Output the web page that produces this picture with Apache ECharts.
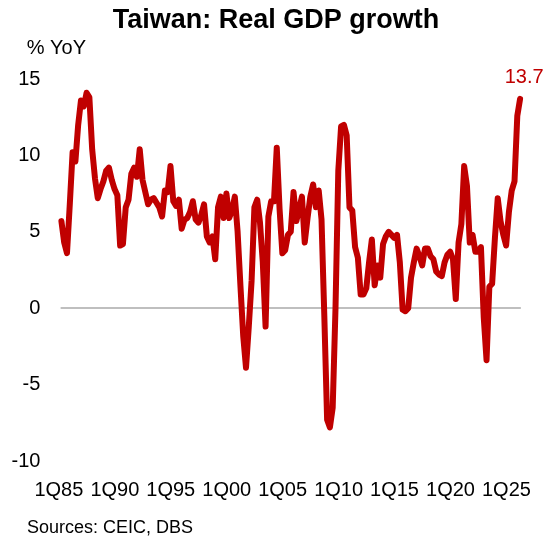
<!DOCTYPE html>
<html>
<head>
<meta charset="utf-8">
<script src="https://cdn.jsdelivr.net/npm/echarts@6/dist/echarts.min.js"></script>
<style>
  html, body { margin: 0; padding: 0; background: #ffffff; }
  #chart { width: 552px; height: 541px; }
</style>
</head>
<body>
<div id="chart"></div>
<script>
// Taiwan real GDP, % YoY, quarterly from 1Q85
const firstYear = 1985;
const growth = [
  5.7, 4.3, 3.6, 6.8, 10.2, 9.6, 12.0, 13.6, 13.2, 14.1,
  13.8, 10.4, 8.5, 7.2, 7.8, 8.3, 9.0, 9.2, 8.4, 7.8,
  7.4, 4.1, 4.2, 6.6, 7.1, 8.8, 9.2, 8.6, 10.4, 8.4,
  7.6, 6.8, 7.1, 7.2, 6.9, 6.6, 6.0, 7.7, 7.6, 9.3,
  7.0, 6.7, 7.1, 5.2, 5.8, 5.9, 6.3, 7.0, 5.8, 5.6,
  6.1, 6.8, 4.7, 4.3, 4.7, 3.2, 6.6, 7.3, 5.9, 7.5,
  5.9, 6.4, 7.3, 5.0, 1.5, -1.8, -3.9, -1.2, 1.8, 6.6,
  7.1, 5.6, 3.0, -1.2, 6.0, 7.0, 7.0, 10.5, 6.5, 3.6,
  3.8, 4.8, 5.0, 7.6, 5.7, 6.5, 7.3, 4.3, 5.9, 7.3,
  8.1, 6.6, 7.7, 5.8, -0.5, -7.3, -7.8, -6.5, 0.0, 9.0,
  11.9, 12.0, 11.3, 6.6, 6.4, 4.0, 3.3, 0.9, 0.9, 1.3,
  3.0, 4.5, 1.5, 2.8, 2.0, 4.2, 4.7, 5.0, 4.8, 4.6,
  4.8, 3.0, -0.1, -0.2, 0.0, 2.0, 3.0, 3.9, 3.4, 2.8,
  3.9, 3.9, 3.4, 3.2, 2.4, 2.2, 2.1, 3.0, 3.5, 3.7,
  3.2, 0.6, 4.3, 5.5, 9.3, 8.0, 4.3, 4.8, 3.7, 3.7,
  4.0, -0.6, -3.4, 1.4, 1.6, 4.6, 7.2, 5.7, 4.8, 4.1,
  6.3, 7.7, 8.3, 12.6, 13.7
];
const tickLabels = ['1Q85', '1Q90', '1Q95', '1Q00', '1Q05', '1Q10', '1Q15', '1Q20', '1Q25'];
const yTicks = [-10, -5, 0, 5, 10, 15];

// quarter names: 1Q85, 2Q85, ...
const quarters = growth.map((_, i) => {
  const yr = firstYear + Math.floor(i / 4);
  return (i % 4 + 1) + 'Q' + String(yr).slice(-2);
});

const FONT = "'Liberation Sans', Arial, sans-serif";
const RED = '#C00000';

const chart = echarts.init(document.getElementById('chart'), null, { renderer: 'canvas' });
chart.setOption({
  animation: false,
  backgroundColor: '#ffffff',
  title: [
    {
      text: 'Taiwan: Real GDP growth',
      left: 'center', top: 2,
      textStyle: { fontFamily: FONT, fontSize: 27, fontWeight: 'bold', color: '#000' }
    },
    {
      text: 'Sources: CEIC, DBS',
      left: 22, top: 514,
      textStyle: { fontFamily: FONT, fontSize: 18, fontWeight: 'normal', color: '#000' }
    }
  ],
  grid: { left: 61.4, right: 31.9, top: 79, bottom: 80, containLabel: false },
  xAxis: [
    {
      type: 'category', data: quarters, boundaryGap: false,
      axisLine: { show: false, onZero: false }, axisTick: { show: false },
      axisLabel: {
        margin: 19, fontSize: 20, fontFamily: FONT, color: '#000',
        padding: [0, 5, 0, 0],
        interval: (idx, name) => tickLabels.includes(name),
        hideOverlap: false
      },
      splitLine: { show: false }
    },
    {
      // zero line
      type: 'category', data: quarters, boundaryGap: false, position: 'bottom',
      axisLine: { show: true, onZero: true, lineStyle: { color: '#BFBFBF', width: 2 } },
      axisTick: { show: false }, axisLabel: { show: false }, splitLine: { show: false }
    }
  ],
  yAxis: {
    type: 'value', min: yTicks[0], max: yTicks[yTicks.length - 1], interval: 5,
    name: '% YoY', nameLocation: 'end', nameGap: 21,
    nameTextStyle: { fontFamily: FONT, fontSize: 20, color: '#000', align: 'center', padding: [0, 0, 0, -10] },
    axisLine: { show: false }, axisTick: { show: false },
    axisLabel: { margin: 21, fontSize: 20, fontFamily: FONT, color: '#000' },
    splitLine: { show: false }
  },
  series: [{
    type: 'line', xAxisIndex: 0, data: growth,
    showSymbol: false, symbol: 'none', smooth: false,
    lineStyle: { color: RED, width: 6, cap: 'round', join: 'round' },
    endLabel: {
      show: true, color: RED, fontSize: 20, fontFamily: FONT,
      align: 'center', verticalAlign: 'bottom', distance: 0, offset: [4, -11],
      formatter: p => Number(p.value).toFixed(1)
    },
    z: 3
  }]
});
</script>
</body>
</html>
